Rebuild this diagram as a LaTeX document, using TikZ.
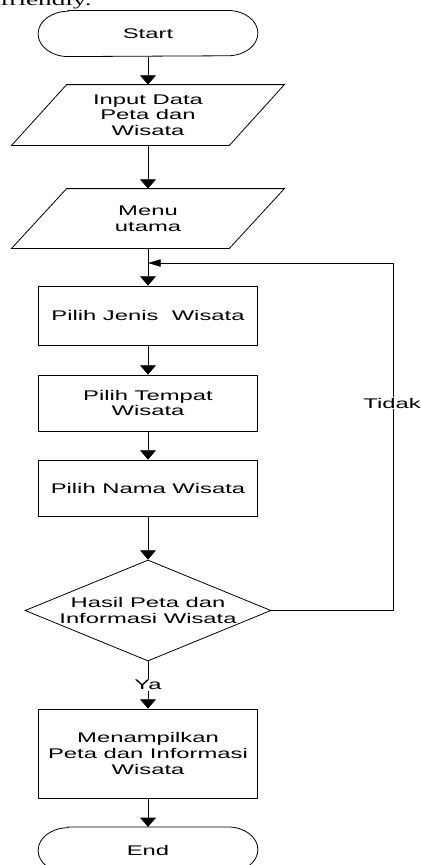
\documentclass[tikz,border=0pt]{standalone}
\usepackage{fontspec}
\setmainfont[FakeStretch=1.7]{Liberation Sans}
\newfontfamily\serifst[FakeStretch=1.7]{Liberation Serif}
\usetikzlibrary{arrows.meta,shapes.geometric}
\begin{document}
\begin{tikzpicture}[x=0.75pt,y=-0.75pt,
  line width=0.6pt,
  txt/.style={font=\fontsize{10.5}{11.8}\selectfont, align=center, inner sep=0pt},
  boxnode/.style={txt, draw, minimum width=164.25pt, rectangle},
  hidden/.style={txt, minimum width=204pt, rectangle},
  term/.style={txt, minimum width=164.25pt, minimum height=34pt, rectangle},
  arr/.style={-{Triangle[width=12pt,length=7pt]}},
  harr/.style={-{Triangle[width=5.5pt,length=9.5pt]}},
  lbl/.style={txt, fill=white, inner sep=1pt}
]
\useasboundingbox (0,0) rectangle (421,865);

\node[anchor=base west, inner sep=0pt, font=\serifst\fontsize{12}{14}\selectfont] (top) at (0,5) {friendly.};

% Start
\node[term] (start) at (148,33.5) {Start};
\draw ([xshift=22.5pt]start.north west) -- ([xshift=-22.5pt]start.north east)
  arc[start angle=90,end angle=-90,x radius=22.5pt,y radius=17pt]
  -- ([xshift=22.5pt]start.south west)
  arc[start angle=270,end angle=90,x radius=22.5pt,y radius=17pt] -- cycle;

% Input
\node[hidden, minimum height=45pt] (inp) at (148,115) {Input Data\\Peta dan\\Wisata};
\draw ([xshift=41.25pt]inp.north west) -- (inp.north east)
  -- ([xshift=-41.25pt]inp.south east) -- (inp.south west) -- cycle;

% Menu
\node[hidden, minimum height=44.25pt] (menu) at (148,218.5) {Menu\\utama};
\draw ([xshift=41.25pt]menu.north west) -- (menu.north east)
  -- ([xshift=-41.25pt]menu.south east) -- (menu.south west) -- cycle;

% Boxes
\node[boxnode, minimum height=44.25pt] (b1) at (148,315.5) {Pilih Jenis \ Wisata};
\node[boxnode, minimum height=42pt] (b2) at (148,403) {Pilih Tempat\\Wisata};
\node[boxnode, minimum height=42pt] (b3) at (148,488) {Pilih Nama Wisata};

% Decision
\node[diamond, draw, minimum width=184.5pt, minimum height=75.75pt, inner sep=0pt] (dec) at (148,610.5) {};
\node[txt] (dect) at (dec.center) {Hasil Peta dan\\Informasi Wisata};

% Output box
\node[boxnode, minimum height=66.75pt] (b4) at (148,753.5) {Menampilkan\\Peta dan Informasi\\Wisata};

% End
\node[term] (end) at (148,850) {End};
\draw ([xshift=22.5pt]end.north west) -- ([xshift=-22.5pt]end.north east)
  arc[start angle=90,end angle=-90,x radius=22.5pt,y radius=17pt]
  -- ([xshift=22.5pt]end.south west)
  arc[start angle=270,end angle=90,x radius=22.5pt,y radius=17pt] -- cycle;

% Connectors
\draw[arr] (start.south) -- (inp.north);
\draw[arr] (inp.south) -- (menu.north);
\draw[arr] (menu.south) -- (b1.north);
\draw[arr] (b1.south) -- (b2.north);
\draw[arr] (b2.south) -- (b3.north);
\draw[arr] (b3.south) -- (dec.north);
\draw[arr] (dec.south) -- node[lbl, pos=0.5] (ya) {Ya} (b4.north);
\draw[arr] (b4.south) -- (end.north);

\coordinate (join) at (148,263);
\coordinate (rc) at (393,263);
\draw[harr] (dec.east) -| (rc) -- (join);
\node[lbl] (tidak) at (392,403) {Tidak};
\end{tikzpicture}
\end{document}
